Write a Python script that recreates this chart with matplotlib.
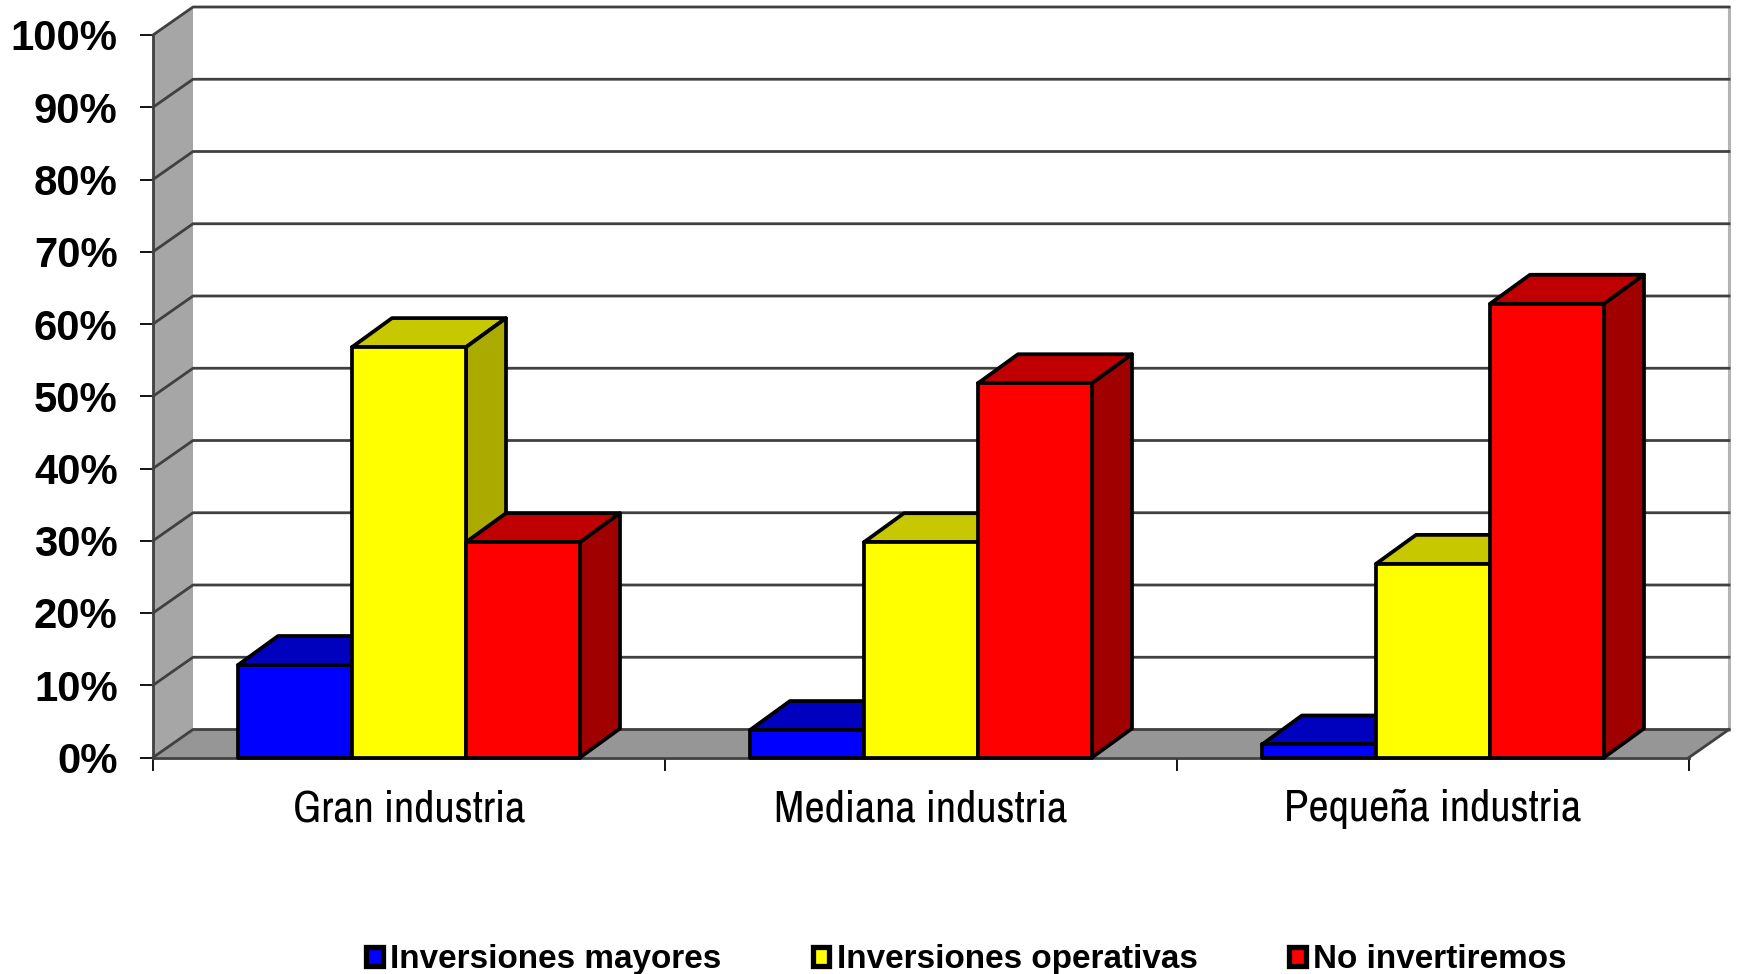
import matplotlib
matplotlib.use('Agg')
import matplotlib.pyplot as plt
from matplotlib import font_manager
from matplotlib.patches import Patch

# Values
categories = ['Gran industria', 'Mediana industria', 'Pequeña industria']
series_names = ['Inversiones mayores', 'Inversiones operativas', 'No invertiremos']
mayores = [12.8, 3.8, 1.8]
operativas = [56.8, 29.8, 26.8]
no_invertiremos = [29.8, 51.8, 62.8]
y_ticks = [0, 10, 20, 30, 40, 50, 60, 70, 80, 90, 100]
y_labels = ['0%', '10%', '20%', '30%', '40%', '50%', '60%', '70%', '80%', '90%', '100%']

# front, top, side colours of each series
front_colors = ['#0000FF', '#FFFF00', '#FF0000']
top_colors = ['#0000BF', '#C8C800', '#C00000']
side_colors = ['#00009F', '#AAAA00', '#A00000']

# fake 3d depth in data units
depth_x = 40 / 512
depth_y = 29 / 7.225
wall_depth_y = 28 / 7.225
bar_w = 114 / 512
gap = 85 / 512

# look for a narrow face for the category labels
names = sorted(set(f.name for f in font_manager.fontManager.ttflist))
narrow = [n for n in names if 'Narrow' in n or 'Condensed' in n]
label_font = narrow[0] if narrow else 'Liberation Sans'
label_size = 32 if narrow else 26.6
label_pad = 23 if narrow else 25

W, H = 1739, 974
fig = plt.figure(figsize=(W / 100, H / 100), dpi=100, facecolor='white')
ax = fig.add_axes([153 / W, 1 - 757.5 / H, 1536 / W, 722.5 / H])
ax.set_xlim(0, 3)
ax.set_ylim(0, 100)
ax.patch.set_visible(False)
for s in ['top', 'right']:
    ax.spines[s].set_visible(False)

line_col = '#404040'

# left wall, floor, back wall edge
ax.fill([0, depth_x, depth_x, 0], [0, wall_depth_y, 100 + wall_depth_y, 100], color='#A6A6A6', lw=0, clip_on=False, zorder=1)
ax.fill([0, depth_x, 3 + depth_x, 3], [0, wall_depth_y, wall_depth_y, 0], color='#969696', lw=0, clip_on=False, zorder=1)
ax.plot([3 + depth_x, 3 + depth_x], [wall_depth_y, 100 + wall_depth_y], color='#B4B4B4', lw=2.2, clip_on=False, zorder=1)
ax.plot([3, 3 + depth_x], [0, wall_depth_y], color=line_col, lw=2, clip_on=False, zorder=2)

# grid on the walls
for v in y_ticks:
    ax.plot([0, depth_x, 3 + depth_x], [v, v + wall_depth_y, v + wall_depth_y], color=line_col, lw=2,
            clip_on=False, zorder=2)

z = 3
edge = dict(edgecolor='black', linewidth=2.7, joinstyle='round', clip_on=False)
all_series = [mayores, operativas, no_invertiremos]
for g in range(len(categories)):
    for i, vals in enumerate(all_series):
        x0 = g + gap + i * bar_w
        x1 = x0 + bar_w
        v = vals[g]
        ax.fill([x0, x0 + depth_x, x1 + depth_x, x1], [v, v + depth_y, v + depth_y, v],
                facecolor=top_colors[i], zorder=z, **edge)
        ax.fill([x1, x1 + depth_x, x1 + depth_x, x1], [0, depth_y, v + depth_y, v],
                facecolor=side_colors[i], zorder=z, **edge)
        ax.bar(x0, v, width=bar_w, align='edge', facecolor=front_colors[i], zorder=z + 0.5, **edge)
        z += 1

# axes and ticks
for s in ['left', 'bottom']:
    ax.spines[s].set_color(line_col)
    ax.spines[s].set_linewidth(2)
ax.set_yticks(y_ticks)
ax.set_yticklabels(y_labels, fontfamily='Liberation Sans', fontweight='bold', fontsize=30.2)
ax.tick_params(axis='y', length=9.4, width=1.3, color='black', pad=16)
ax.set_xticks([0, 1, 2, 3])
ax.set_xticklabels([])
ax.tick_params(axis='x', which='major', length=9.4, width=1.3, color='black')
ax.set_xticks([0.5, 1.5, 2.5], minor=True)
ax.set_xticklabels(categories, minor=True, fontfamily=label_font, fontsize=label_size)
ax.tick_params(axis='x', which='minor', length=0, pad=label_pad)

handles = [Patch(facecolor=c, edgecolor='black', linewidth=3.8, joinstyle='round') for c in front_colors]
fig.legend(handles, series_names, loc='center left', bbox_to_anchor=(366 / W, 1 - 959.5 / H), ncol=3,
           frameon=False, borderpad=0, borderaxespad=0, handlelength=0.5, handleheight=0.5,
           handletextpad=0.22, columnspacing=2.75,
           prop={'family': 'Liberation Sans', 'weight': 'bold', 'size': 23.95})

fig.savefig('out.png', dpi=100)
